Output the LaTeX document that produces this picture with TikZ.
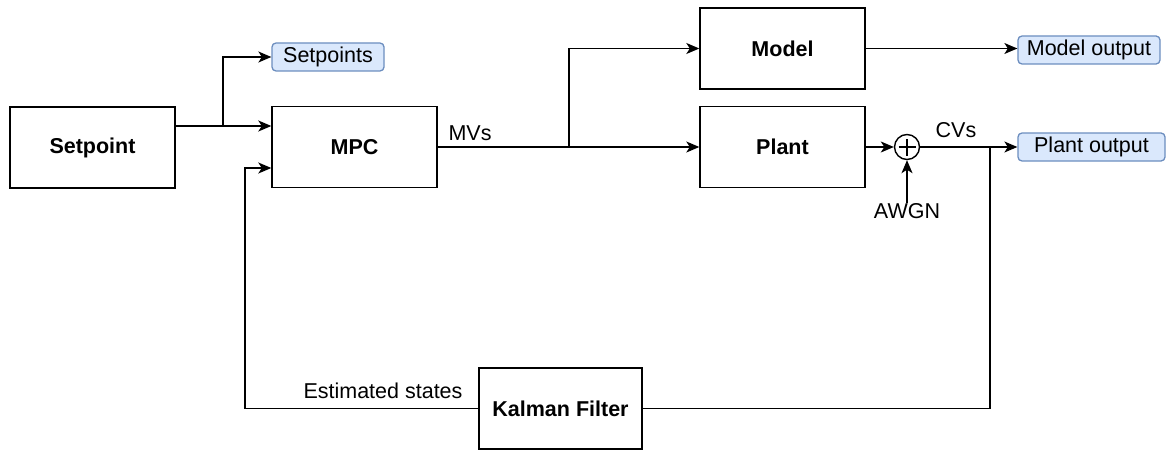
\documentclass[tikz,border=0pt]{standalone}
\usepackage{fontspec}
\setmainfont{Liberation Sans}
\usetikzlibrary{arrows.meta}
\definecolor{lblfill}{HTML}{DAE8FC}
\definecolor{lbldraw}{HTML}{6C8EBF}
\begin{document}
\begin{tikzpicture}[x=1pt,y=-1pt,
  blk/.style={draw,line width=1.4pt,minimum width=165pt,minimum height=81pt,font=\bfseries\fontsize{21.5}{24}\selectfont,inner sep=0pt},
  lbl/.style={draw=lbldraw,fill=lblfill,rounded corners=4pt,line width=1.3pt,minimum height=28pt,font=\fontsize{21.5}{24}\selectfont,inner sep=0pt},
  txt/.style={font=\fontsize{21.5}{24}\selectfont,inner sep=0pt},
  arr/.style={line width=1.4pt,-{Stealth[length=13pt,width=11pt,inset=3.5pt]}},
  ln/.style={line width=1.4pt}]
\useasboundingbox (0,0) rectangle (1167,452);
\node[blk] (setpoint) at (92.5,147.5) {Setpoint};
\node[blk] (mpc) at (354.5,147) {MPC};
\node[blk] (model) at (782.5,48.5) {Model};
\node[blk] (plant) at (782.5,147) {Plant};
\node[blk,minimum width=163pt] (kf) at (560.5,408.5) {Kalman Filter};
\node[lbl,minimum width=112pt] (sps) at (328,57) {Setpoints};
\node[lbl,minimum width=142pt] (mout) at (1089,50) {Model output};
\node[lbl,minimum width=147pt] (pout) at (1091.5,147) {Plant output};
\node[draw,circle,line width=1.4pt,minimum size=25pt,inner sep=0pt] (sum) at (907,147) {};
\draw[line width=1.2pt] ([yshift=-8.5pt]sum.center) -- ([yshift=8.5pt]sum.center)
  ([xshift=-8.5pt]sum.center) -- ([xshift=8.5pt]sum.center);
\node[txt] (awgn) at (907,211) {AWGN};
\node[txt] (cvs) at (956,130) {CVs};
\node[txt] (mvs) at (470,133) {MVs};
\node[txt] (est) at (383,391) {Estimated states};
\coordinate (b1) at (223,126);
\coordinate (b2) at (569,147);
\coordinate (b3) at (990,147);
% setpoint
\draw[arr] (setpoint.east |- b1) -- (mpc.west |- b1);
\draw[arr] (b1) |- (sps.west);
% MVs
\draw[arr] (mpc.east) -- (plant.west);
\draw[arr] (b2) |- (model.west);
\draw[arr] (model.east) -- (model.east -| mout.west);
% plant
\draw[arr] (plant.east) -- (sum.west);
\draw[arr] (awgn.north) -- (sum.south);
\draw[arr] (sum.east) -- (pout.west);
% feedback
\draw[ln] (b3) |- (kf.east);
\draw[arr] (kf.west) -| (245,300) |- (mpc.west |- 0,168);
\end{tikzpicture}
\end{document}
